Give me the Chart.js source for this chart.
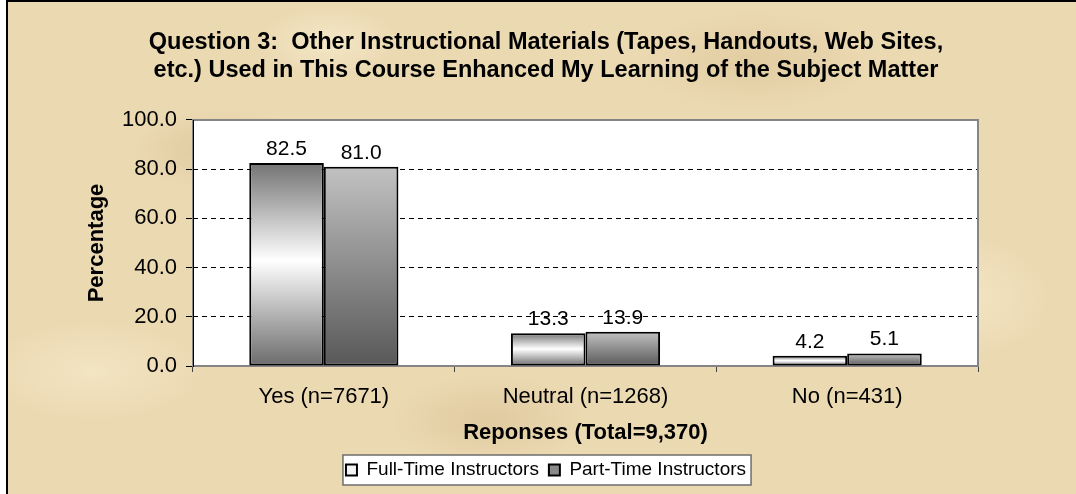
<!DOCTYPE html>
<html>
<head>
<meta charset="utf-8">
<script src="https://cdn.jsdelivr.net/npm/chart.js@4/dist/chart.umd.min.js"></script>
<style>
  html, body { margin: 0; padding: 0; background: #fff; }
  #frame {
    position: absolute; left: 6px; top: 0; width: 1070px; height: 494px;
    box-sizing: border-box; border-left: 2px solid #000; border-top: 2px solid #000;
    background-color: #ebd9b2;
    background-image:
      radial-gradient(ellipse 90px 40px at 20% 30%, rgba(200,170,120,0.35), transparent),
      radial-gradient(ellipse 120px 50px at 70% 12%, rgba(205,175,125,0.3), transparent),
      radial-gradient(ellipse 100px 45px at 45% 85%, rgba(200,168,118,0.3), transparent),
      radial-gradient(ellipse 80px 60px at 90% 60%, rgba(248,236,205,0.6), transparent),
      radial-gradient(ellipse 110px 50px at 8% 75%, rgba(248,236,205,0.6), transparent),
      radial-gradient(ellipse 140px 40px at 55% 45%, rgba(210,180,130,0.25), transparent),
      radial-gradient(ellipse 70px 35px at 30% 8%, rgba(250,240,212,0.6), transparent);
  }
  #c { position: absolute; left: 0; top: 0; }
</style>
</head>
<body>
<div id="frame"></div>
<canvas id="c" width="1076" height="494"></canvas>
<script>
// Données du graphique
const categories = ['Yes (n=7671)', 'Neutral (n=1268)', 'No (n=431)'];
const seriesLabels = ['Full-Time Instructors', 'Part-Time Instructors'];
const fullTime = [82.5, 13.3, 4.2];
const partTime = [81.0, 13.9, 5.1];
const yTicks = [0, 20, 40, 60, 80, 100];

const titleLines = [
    'Question 3:  Other Instructional Materials (Tapes, Handouts, Web Sites,',
    'etc.) Used in This Course Enhanced My Learning of the Subject Matter'
];

const FONT = "'Liberation Sans', Arial, sans-serif";
const PAD_LEFT = 114;

// Dégradé vertical pour chaque barre
function barGradient(stops, fallback) {
    return function(context) {
        const chart = context.chart;
        if (!chart.chartArea || context.type !== 'data') return fallback;
        const y = chart.scales.y;
        const top = y.getPixelForValue(context.raw);
        const bottom = y.getPixelForValue(0);
        const g = chart.ctx.createLinearGradient(0, top, 0, bottom);
        stops.forEach(s => g.addColorStop(s[0], s[1]));
        return g;
    };
}

// Fond blanc de la zone de tracé + cadre de la légende
const backgroundPlugin = {
    id: 'backgroundPlugin',
    beforeDraw(chart) {
        const ctx = chart.ctx;
        const a = chart.chartArea;
        ctx.save();
        ctx.fillStyle = '#ffffff';
        ctx.fillRect(a.left, a.top, a.right - a.left, a.bottom - a.top);

        const lg = chart.legend;
        if (lg && lg.legendHitBoxes && lg.legendHitBoxes.length) {
            const hb = lg.legendHitBoxes;
            const x1 = hb[0].left - 3;
            const x2 = hb[hb.length - 1].left + hb[hb.length - 1].width + 5;
            const y1 = lg.top + 4.5;
            const y2 = lg.bottom - 4.5;
            ctx.fillStyle = '#ffffff';
            ctx.fillRect(x1, y1, x2 - x1, y2 - y1);
            ctx.strokeStyle = '#6e6e6e';
            ctx.lineWidth = 1.5;
            ctx.strokeRect(x1, y1, x2 - x1, y2 - y1);
        }
        ctx.restore();
    },
    beforeDatasetsDraw(chart) {
        const ctx = chart.ctx;
        const a = chart.chartArea;
        ctx.save();
        ctx.strokeStyle = '#858585';
        ctx.lineWidth = 2;
        ctx.strokeRect(a.left, a.top, a.right - a.left, a.bottom - a.top);
        ctx.strokeStyle = '#000';
        ctx.lineWidth = 1;
        ctx.beginPath();
        ctx.moveTo(a.left + 0.5, a.top);
        ctx.lineTo(a.left + 0.5, a.bottom + 1);
        ctx.stroke();
        ctx.restore();
    }
};

// Étiquettes de valeurs au-dessus des barres
const valueLabels = {
    id: 'valueLabels',
    afterDatasetsDraw(chart) {
        const ctx = chart.ctx;
        ctx.save();
        ctx.font = '21px ' + FONT;
        ctx.fillStyle = '#000';
        ctx.textAlign = 'center';
        ctx.textBaseline = 'alphabetic';
        chart.data.datasets.forEach((ds, i) => {
            chart.getDatasetMeta(i).data.forEach((bar, j) => {
                ctx.fillText(ds.data[j].toFixed(1), bar.x, bar.y - 8);
            });
        });
        ctx.restore();
    }
};

const legendFill = ['#f4f4f4', '#8a8a8a'];

new Chart(document.getElementById('c'), {
    type: 'bar',
    data: {
        labels: categories,
        datasets: [{
            label: seriesLabels[0],
            data: fullTime,
            backgroundColor: barGradient([[0, '#737373'], [0.48, '#ffffff'], [1, '#6b6b6b']], '#cccccc'),
            borderColor: '#000',
            borderWidth: 2,
            borderSkipped: false
        }, {
            label: seriesLabels[1],
            data: partTime,
            backgroundColor: barGradient([[0, '#c2c2c2'], [1, '#585858']], '#999999'),
            borderColor: '#000',
            borderWidth: 2,
            borderSkipped: false
        }]
    },
    options: {
        responsive: false,
        animation: false,
        categoryPercentage: 0.57,
        barPercentage: 1.0,
        layout: {
            padding: { top: 2, left: PAD_LEFT, right: 98, bottom: 4.5 }
        },
        plugins: {
            title: {
                display: true,
                text: titleLines,
                color: '#000',
                font: { family: FONT, size: 23.5, weight: 'bold', lineHeight: 1.17 },
                padding: { top: 27.25, bottom: 35.75 }
            },
            legend: {
                position: 'bottom',
                labels: {
                    color: '#000',
                    font: { family: FONT, size: 19 },
                    boxWidth: 11,
                    boxHeight: 11,
                    padding: 10,
                    generateLabels: chart => chart.data.datasets.map((ds, i) => ({
                        text: ds.label,
                        fillStyle: legendFill[i],
                        strokeStyle: '#000',
                        lineWidth: 2,
                        datasetIndex: i,
                        hidden: false
                    }))
                }
            },
            tooltip: { enabled: false }
        },
        scales: {
            x: {
                afterFit: scale => { scale.height = 84.5; },
                grid: {
                    display: true,
                    drawOnChartArea: false,
                    tickLength: 6,
                    color: '#444'
                },
                border: { display: false },
                ticks: {
                    color: '#000',
                    font: { family: FONT, size: 22 },
                    padding: 12
                },
                title: {
                    display: true,
                    text: 'Reponses (Total=9,370)',
                    color: '#000',
                    font: { family: FONT, size: 22, weight: 'bold' },
                    padding: { top: 0, bottom: 4.3 }
                }
            },
            y: {
                min: 0,
                max: 100,
                afterFit: scale => { scale.width = 193 - PAD_LEFT; },
                afterBuildTicks: scale => { scale.ticks = yTicks.map(v => ({ value: v })); },
                grid: {
                    color: '#000',
                    lineWidth: 1,
                    tickLength: 7,
                    tickColor: '#000',
                    tickBorderDash: []
                },
                border: { display: false, dash: [5, 4] },
                ticks: {
                    color: '#000',
                    font: { family: FONT, size: 22 },
                    padding: 9,
                    callback: v => Number(v).toFixed(1)
                },
                title: {
                    display: true,
                    text: 'Percentage',
                    color: '#000',
                    font: { family: FONT, size: 22, weight: 'bold' },
                    padding: { top: 96.5 - PAD_LEFT - 13.2, bottom: 0 }
                }
            }
        }
    },
    plugins: [backgroundPlugin, valueLabels]
});
</script>
</body>
</html>
